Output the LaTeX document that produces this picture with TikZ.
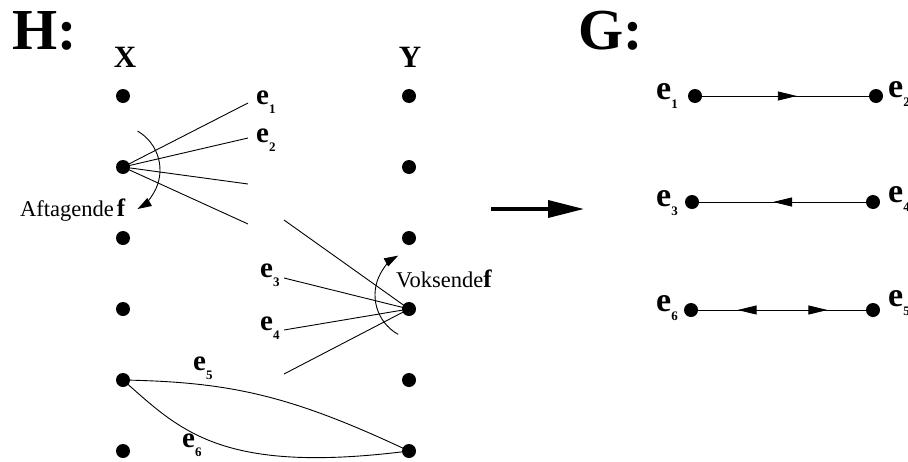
\documentclass[tikz,border=0pt]{standalone}
\usepackage{fontspec}
\setmainfont{Liberation Serif}
\usetikzlibrary{arrows.meta,decorations.markings}
\newcommand\elab[3]{{\fontsize{#1}{#1}\selectfont\bfseries e}\kern#3\raisebox{-9pt}{\fontsize{13}{13}\selectfont\bfseries #2}}
\tikzset{
  dot/.style={circle,fill=black,inner sep=0pt,minimum size=14pt},
  gdot/.style={circle,fill=black,inner sep=0pt,minimum size=14pt},
  lbl/.style={inner sep=0pt,anchor=base west},
  edge/.style={line width=0.9pt},
  tipA/.style={-{Triangle[length=14pt,width=9pt]}},
  mtip/.tip={Triangle[length=19pt,width=9pt]}
}
\begin{document}
\begin{tikzpicture}[x=1pt,y=-1pt]
\useasboundingbox (0,0) rectangle (908,461);
% titles
\node[lbl] (H) at (12,49) {\fontsize{58}{58}\selectfont\bfseries H:};
\node[lbl] (G) at (578,49) {\fontsize{58}{58}\selectfont\bfseries G:};
\node[inner sep=0pt,anchor=base] (Xt) at (125,67) {\fontsize{31}{31}\selectfont\bfseries X};
\node[inner sep=0pt,anchor=base] (Yt) at (410,67) {\fontsize{31}{31}\selectfont\bfseries Y};
% X and Y columns
\foreach \i/\y in {1/96,2/167,3/238,4/309,5/380,6/451}{
  \node[dot] (x\i) at (123,\y) {};
  \node[dot] (y\i) at (409,\y) {};
}
% edges from x2
\coordinate (a1) at (248,103);
\coordinate (a2) at (248,138);
\coordinate (a3) at (248,184);
\coordinate (a4) at (248,224);
\foreach \k in {1,2,3,4} \draw[edge] (x2.center) -- (a\k);
% edges to y4
\coordinate (b1) at (284,220);
\coordinate (b2) at (284,278);
\coordinate (b3) at (284,330);
\coordinate (b4) at (284,374);
\foreach \k in {1,2,3,4} \draw[edge] (b\k) -- (y4.center);
% curves
\draw[edge] (x5.center) .. controls (230,382) and (290,395) .. (y6.center);
\draw[edge] (x5.center) .. controls (180,430) and (220,475) .. (y6.center);
% edge labels H
\node[lbl] (le1) at (256,104) {\elab{29}{1}{0pt}};
\node[lbl] (le2) at (256,142) {\elab{29}{2}{0pt}};
\node[lbl] (le3) at (260,277) {\elab{29}{3}{0pt}};
\node[lbl] (le4) at (260,330) {\elab{29}{4}{0pt}};
\node[lbl] (le5) at (193,370) {\elab{29}{5}{0pt}};
\node[lbl] (le6) at (182,447) {\elab{29}{6}{0pt}};
% rotation arcs
\draw[edge,tipA] (115,170) ++(-60:45) arc[start angle=-60,end angle=60,radius=45];
\draw[edge,tipA] (420,295) ++(119:45) arc[start angle=119,end angle=241,radius=45];
\node[lbl] (aft) at (20,216) {\fontsize{22.5}{22.5}\selectfont Aftagende\kern3pt{\fontsize{25}{25}\selectfont\bfseries f}};
\node[lbl] (vok) at (396,287) {\fontsize{22.5}{22.5}\selectfont Voksende{\fontsize{25}{25}\selectfont\bfseries f}};
% big arrow
\coordinate (s) at (491,209);
\coordinate (t) at (584,209);
\draw[line width=3.5pt,-{Triangle[length=36pt,width=17pt]}] (s) -- (t);
% G graph
\node[gdot] (g1) at (695,96) {};
\node[gdot] (g2) at (876,96) {};
\node[gdot] (g3) at (692,202) {};
\node[gdot] (g4) at (873,202) {};
\node[gdot] (g6) at (691,310) {};
\node[gdot] (g5) at (873,310) {};
\draw[edge,postaction={decorate},decoration={markings,mark=at position 0.568 with {\arrow{mtip}}}] (g1) -- (g2);
\draw[edge,postaction={decorate},decoration={markings,mark=at position 0.443 with {\arrowreversed{mtip}}}] (g3) -- (g4);
\draw[edge,postaction={decorate},decoration={markings,mark=at position 0.235 with {\arrowreversed{mtip}},mark=at position 0.771 with {\arrow{mtip}}}] (g6) -- (g5);
\node[lbl] (ge1) at (656,99) {\elab{34}{1}{0pt}};
\node[lbl] (ge2) at (888,97) {\elab{34}{2}{0pt}};
\node[lbl] (ge3) at (656,206) {\elab{34}{3}{0pt}};
\node[lbl] (ge4) at (888,202) {\elab{34}{4}{0pt}};
\node[lbl] (ge6) at (656,311) {\elab{34}{6}{0pt}};
\node[lbl] (ge5) at (888,306) {\elab{34}{5}{0pt}};
\end{tikzpicture}
\end{document}
